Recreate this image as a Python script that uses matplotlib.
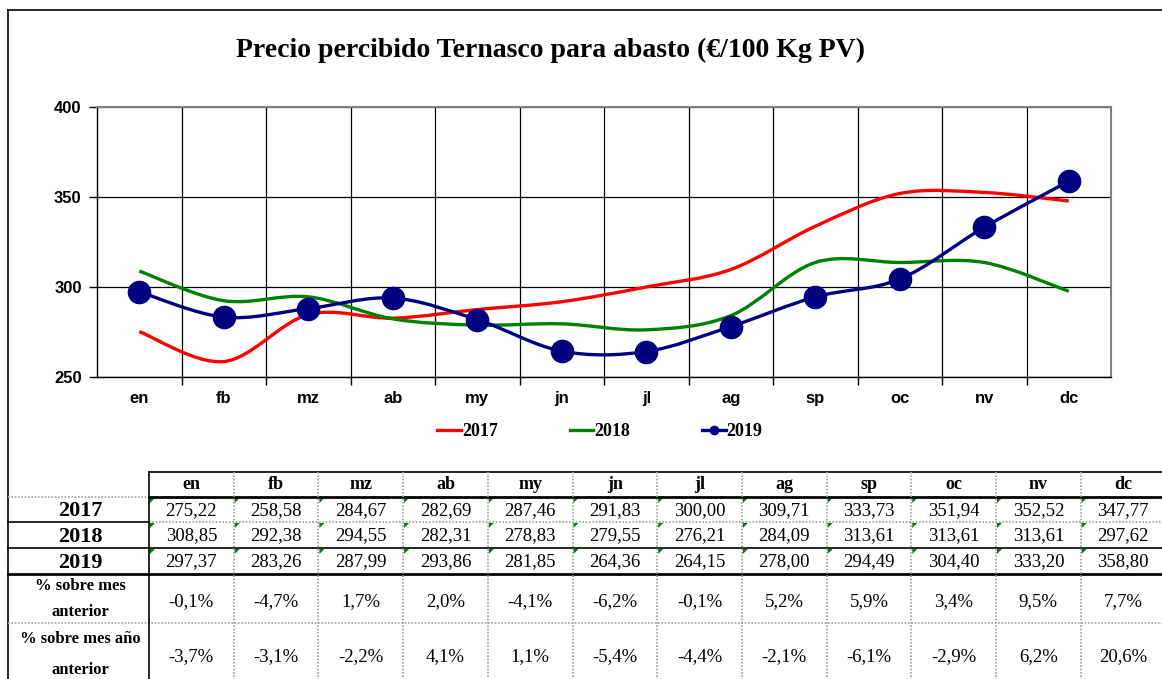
import numpy as np
import matplotlib.pyplot as plt
from matplotlib.path import Path
from matplotlib.patches import PathPatch
from matplotlib.lines import Line2D

meses = ['en', 'fb', 'mz', 'ab', 'my', 'jn', 'jl', 'ag', 'sp', 'oc', 'nv', 'dc']
p2017 = [275.22, 258.58, 284.67, 282.69, 287.46, 291.83, 300.00, 309.71, 333.73, 351.94, 352.52, 347.77]
p2018 = [308.85, 292.38, 294.55, 282.31, 278.83, 279.55, 276.21, 284.09, 313.61, 313.61, 313.61, 297.62]
p2019 = [297.37, 283.26, 287.99, 293.86, 281.85, 264.36, 264.15, 278.00, 294.49, 304.40, 333.20, 358.80]
var_mes = [-0.1, -4.7, 1.7, 2.0, -4.1, -6.2, -0.1, 5.2, 5.9, 3.4, 9.5, 7.7]
var_anyo = [-3.7, -3.1, -2.2, 4.1, 1.1, -5.4, -4.4, -2.1, -6.1, -2.9, 6.2, 20.6]

W, H = 1162, 679
serif = 'Liberation Serif'
sans = 'Liberation Sans'


def curva(ax, y, color, z):
    # curva suavizada tipo Excel (Bezier con tangentes de Catmull-Rom)
    x = np.arange(len(y), dtype=float)
    y = np.asarray(y, dtype=float)
    n = len(y)
    verts = [(x[0], y[0])]
    codes = [Path.MOVETO]
    for i in range(n - 1):
        i0 = max(i - 1, 0)
        i3 = min(i + 2, n - 1)
        c1 = (x[i] + (x[i + 1] - x[i0]) / 6, y[i] + (y[i + 1] - y[i0]) / 6)
        c2 = (x[i + 1] - (x[i3] - x[i]) / 6, y[i + 1] - (y[i3] - y[i]) / 6)
        verts += [c1, c2, (x[i + 1], y[i + 1])]
        codes += [Path.CURVE4] * 3
    ax.add_patch(PathPatch(Path(verts, codes), fill=False, edgecolor=color,
                           lw=2.4, zorder=z, capstyle='butt'))


fig = plt.figure(figsize=(W / 100, H / 100), dpi=100)

# capa de fondo en pixeles para marco y tabla
bg = fig.add_axes([0, 0, 1, 1])
bg.set_xlim(0, W)
bg.set_ylim(H, 0)
bg.axis('off')
bg.plot([8, 8], [10, H], color='black', lw=1.2)
bg.plot([8, W], [10, 10], color='black', lw=1.2)

fig.text(550 / W, 1 - 50 / H, 'Precio percibido Ternasco para abasto (€/100 Kg PV)',
         ha='center', va='center', fontsize=20, fontweight='bold', family=serif)

# grafico
x0, x1, yt, yb = 97, 1111, 107, 377
ax = fig.add_axes([x0 / W, 1 - yb / H, (x1 - x0) / W, (yb - yt) / H])
ax.set_xlim(-0.5, 11.5)
ax.set_ylim(250, 400)
ax.set_yticks([250, 300, 350, 400])
ax.set_xticks(range(12))
ax.set_xticklabels(meses)
ax.set_xticks(np.arange(0.5, 11, 1), minor=True)
ax.tick_params(axis='x', which='major', length=0, pad=10)
ax.tick_params(axis='x', which='minor', length=6, width=1, direction='out')
ax.tick_params(axis='y', length=6, width=1, pad=5)
for lab in ax.get_xticklabels() + ax.get_yticklabels():
    lab.set_fontfamily(sans)
    lab.set_fontweight('bold')
    lab.set_fontsize(12)
ax.grid(True, which='minor', axis='x', color='black', lw=0.9)
ax.grid(True, which='major', axis='y', color='black', lw=0.9)
ax.set_axisbelow(True)
for s in ax.spines.values():
    s.set_color('#808080')
    s.set_linewidth(1.5)
ax.spines['left'].set_color('black')
ax.spines['bottom'].set_color('black')
ax.spines['left'].set_linewidth(1)
ax.spines['bottom'].set_linewidth(1)

curva(ax, p2017, '#ff0000', 3)
curva(ax, p2018, '#008000', 3)
curva(ax, p2019, '#000080', 4)
ax.plot(range(12), p2019, 'o', color='#000080', ms=16, zorder=5)

handles = [Line2D([], [], color='#ff0000', lw=2.4),
           Line2D([], [], color='#008000', lw=2.4),
           Line2D([], [], color='#000080', lw=2.4, marker='o', ms=6)]
fig.legend(handles, ['2017', '2018', '2019'], loc='center', ncol=3,
           bbox_to_anchor=(600 / W, 1 - 432 / H), frameon=False,
           handlelength=1.3, handletextpad=0.05, columnspacing=4.0,
           prop={'family': serif, 'weight': 'bold', 'size': 13})

# tabla
cx0, cw = 149, 84.7
rows = [472, 497, 522, 548, 574, 623, 700]
dot = dict(color='#a0a0a0', lw=1.2, ls=(0, (1, 1)))
solid = dict(color='black', lw=1.2)
thick = dict(color='black', lw=2)
tx_end = W
bg.plot([cx0, tx_end], [rows[0]] * 2, **solid)
bg.plot([8, cx0], [rows[1]] * 2, **dot)
bg.plot([cx0, tx_end], [rows[1]] * 2, **thick)
bg.plot([8, cx0], [rows[2]] * 2, **solid)
bg.plot([cx0, tx_end], [rows[2]] * 2, **dot)
bg.plot([8, tx_end], [rows[3]] * 2, **solid)
bg.plot([8, tx_end], [rows[4]] * 2, **thick)
bg.plot([8, tx_end], [rows[5]] * 2, **dot)
bg.plot([cx0, cx0], [rows[0], H], **solid)
for j in range(1, 13):
    xx = cx0 + j * cw
    bg.plot([xx, xx], [rows[0], H], **dot)

for j, m in enumerate(meses):
    xl = cx0 + j * cw
    xc = xl + 0.5 * cw
    bg.text(xc, (rows[0] + rows[1]) / 2, m, ha='center', va='center',
            family=serif, fontweight='bold', fontsize=13)
    for r, serie in enumerate([p2017, p2018, p2019]):
        ytop = rows[r + 1]
        bg.fill([xl + 1, xl + 6, xl + 1], [ytop + 1, ytop + 1, ytop + 6],
                color='#008000', lw=0)
        yc = (rows[r + 1] + rows[r + 2]) / 2 + 1
        bg.text(xc, yc, f'{serie[j]:.2f}'.replace('.', ','), ha='center', va='center',
                family=serif, fontsize=13.5)
    bg.text(xc, 602, f'{var_mes[j]:.1f}'.replace('.', ',') + '%', ha='center', va='center',
            family=serif, fontsize=13.5)
    bg.text(xc, 657, f'{var_anyo[j]:.1f}'.replace('.', ',') + '%', ha='center', va='center',
            family=serif, fontsize=13.5)

lx = (8 + cx0) / 2 + 2
for r, etiqueta in enumerate(['2017', '2018', '2019']):
    bg.text(lx, (rows[r + 1] + rows[r + 2]) / 2 + 2, etiqueta, ha='center', va='center',
            family=serif, fontweight='bold', fontsize=16)
bg.text(lx, 599, '% sobre mes\nanterior', ha='center', va='center', linespacing=1.75,
        family=serif, fontweight='bold', fontsize=12)
bg.text(lx, 639, '% sobre mes año', ha='center', va='center',
        family=serif, fontweight='bold', fontsize=12)
bg.text(lx, 678, 'anterior', ha='center', va='bottom',
        family=serif, fontweight='bold', fontsize=12)

fig.savefig('out.png', dpi=100)
